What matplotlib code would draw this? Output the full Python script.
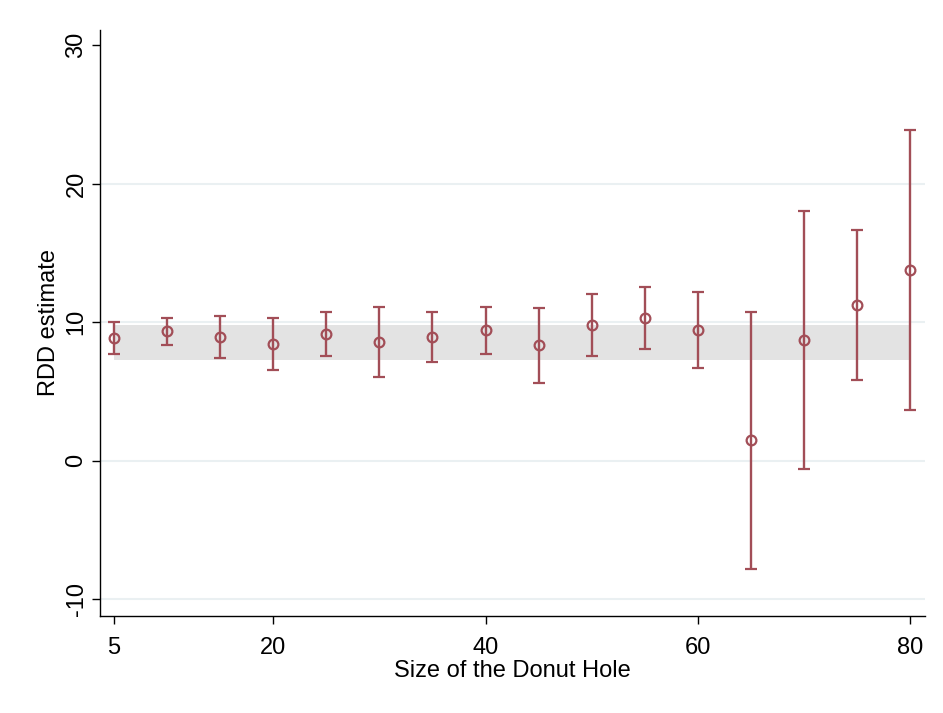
import matplotlib
matplotlib.use("Agg")
import matplotlib.pyplot as plt

plt.rcParams['font.family'] = ['Liberation Sans', 'DejaVu Sans']

donut = [5, 10, 15, 20, 25, 30, 35, 40, 45, 50, 55, 60, 65, 70, 75, 80]
estimate = [8.86, 9.34, 8.95, 8.45, 9.19, 8.59, 8.93, 9.41, 8.35, 9.80, 10.30, 9.43, 1.52, 8.71, 11.26, 13.79]
ci_low = [7.70, 8.38, 7.41, 6.57, 7.58, 6.04, 7.13, 7.70, 5.65, 7.58, 8.06, 6.71, -7.78, -0.59, 5.86, 3.67]
ci_high = [9.99, 10.28, 10.49, 10.30, 10.76, 11.14, 10.73, 11.14, 11.05, 12.01, 12.56, 12.18, 10.78, 18.06, 16.66, 23.88]
band_low = 7.30
band_high = 9.83
xticks = [5, 20, 40, 60, 80]
yticks = [-10, 0, 10, 20, 30]

color = '#A24E57'

fig = plt.figure(figsize=(9.43, 7.13), dpi=100)
ax = fig.add_axes([100/943, (713-616)/713, (925-100)/943, (616-30)/713])

for y in [-10, 0, 10, 20]:
    ax.axhline(y, color='#EAF0F2', lw=1.5, zorder=0)

ax.fill_between([donut[0], donut[-1]], [band_low, band_low], [band_high, band_high],
                color='#E3E3E3', lw=0, zorder=1)

yerr = [[e - l for e, l in zip(estimate, ci_low)], [h - e for e, h in zip(estimate, ci_high)]]
ax.errorbar(donut, estimate, yerr=yerr, fmt='o', mfc='none', mec=color, ms=7, mew=1.6,
            ecolor=color, elinewidth=1.7, capsize=4.5, capthick=1.7, zorder=3)

ax.set_xlim(3.68, 81.4)
ax.set_ylim(-11.2, 31.1)
ax.set_xticks(xticks)
ax.set_yticks(yticks)
ax.set_yticklabels([str(t) for t in yticks], rotation=90, va='center')
ax.tick_params(axis='both', labelsize=17, length=6, width=1, color='black', pad=3)
ax.tick_params(axis='x', pad=9)
for s in ['top', 'right']:
    ax.spines[s].set_visible(False)
for s in ['left', 'bottom']:
    ax.spines[s].set_linewidth(1.0)
ax.set_xlabel('Size of the Donut Hole', fontsize=17, labelpad=1)
ax.set_ylabel('RDD estimate', fontsize=17, labelpad=4)

fig.savefig('out.png', dpi=100, facecolor='white')
